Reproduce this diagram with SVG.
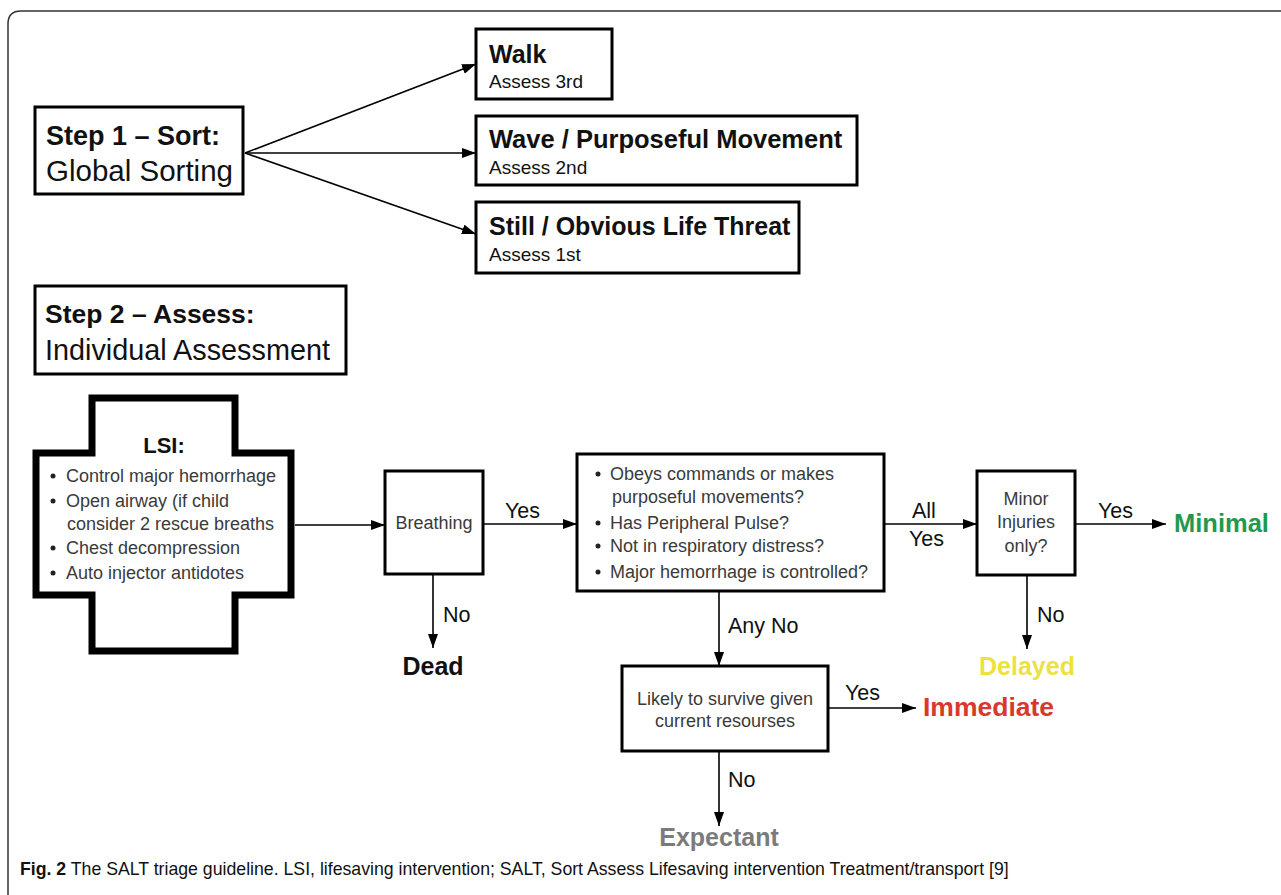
<svg xmlns="http://www.w3.org/2000/svg" width="1281" height="895" viewBox="0 0 1281 895">
<defs>
<marker id="arr" markerUnits="userSpaceOnUse" markerWidth="14" markerHeight="10" refX="14" refY="5" orient="auto">
<path d="M0,0 L14,5 L0,10 z" fill="#000"/>
</marker>
<style>
.box{fill:#fff;stroke:#000;stroke-width:3}
.t{font-family:"Liberation Sans",Arial,sans-serif;fill:#111}
.b{font-weight:bold}
.g{fill:#3a3a3a;font-size:18px}
.lbl{font-size:21.5px}
.conn line{stroke:#000;stroke-width:1.6;marker-end:url(#arr)}
.dot{fill:#222}
</style>
</defs>
<rect width="1281" height="895" fill="#fff"/>
<path d="M8,895 V24 Q8,11 21,11 H1281" fill="none" stroke="#333" stroke-width="1.5"/>

<g id="step1">
<rect class="box" x="35" y="107" width="208" height="87"/>
<text class="t b" x="46" y="145" font-size="27">Step 1 – Sort:</text>
<text class="t" x="46" y="181" font-size="29.5">Global Sorting</text>
</g>
<g id="walk">
<rect class="box" x="476" y="29" width="136" height="70"/>
<text class="t b" x="489" y="63" font-size="25">Walk</text>
<text class="t" x="489" y="88" font-size="19">Assess 3rd</text>
</g>
<g id="wave">
<rect class="box" x="476" y="116" width="381" height="69"/>
<text class="t b" x="489" y="148" font-size="25.5">Wave / Purposeful Movement</text>
<text class="t" x="489" y="174" font-size="19">Assess 2nd</text>
</g>
<g id="still">
<rect class="box" x="476" y="202" width="323" height="71"/>
<text class="t b" x="489" y="235" font-size="25">Still / Obvious Life Threat</text>
<text class="t" x="489" y="261" font-size="19">Assess 1st</text>
</g>
<g id="step2">
<rect class="box" x="35" y="286" width="311" height="88"/>
<text class="t b" x="45" y="323" font-size="26.5">Step 2 – Assess:</text>
<text class="t" x="45" y="360" font-size="28.8">Individual Assessment</text>
</g>
<g id="lsi">
<polygon points="92,398 235,398 235,453 291,453 291,595 235,595 235,651 92,651 92,595 36,595 36,453 92,453" fill="#fff" stroke="#000" stroke-width="7"/>
<text class="t b" x="164" y="453" font-size="22" text-anchor="middle">LSI:</text>
<circle class="dot" cx="53" cy="476" r="2.5"/>
<circle class="dot" cx="53" cy="501" r="2.5"/>
<circle class="dot" cx="53" cy="548" r="2.5"/>
<circle class="dot" cx="53" cy="573" r="2.5"/>
<text class="t g" x="66" y="482">Control major hemorrhage</text>
<text class="t g" x="66" y="507">Open airway (if child</text>
<text class="t g" x="67" y="530">consider 2 rescue breaths</text>
<text class="t g" x="66" y="554">Chest decompression</text>
<text class="t g" x="66" y="579">Auto injector antidotes</text>
</g>
<g id="breathing">
<rect class="box" x="385" y="471" width="98" height="103"/>
<text class="t g" x="434" y="529" font-size="17.5" text-anchor="middle">Breathing</text>
</g>
<g id="criteria">
<rect class="box" x="577" y="454" width="307" height="137"/>
<circle class="dot" cx="598" cy="474" r="2.5"/>
<circle class="dot" cx="598" cy="523" r="2.5"/>
<circle class="dot" cx="598" cy="546" r="2.5"/>
<circle class="dot" cx="598" cy="572" r="2.5"/>
<text class="t g" x="610" y="480">Obeys commands or makes</text>
<text class="t g" x="612" y="503">purposeful movements?</text>
<text class="t g" x="610" y="529">Has Peripheral Pulse?</text>
<text class="t g" x="610" y="552">Not in respiratory distress?</text>
<text class="t g" x="610" y="578">Major hemorrhage is controlled?</text>
</g>
<g id="minor">
<rect class="box" x="977" y="471" width="98" height="104"/>
<text class="t g" x="1026" y="505" font-size="17" text-anchor="middle">Minor</text>
<text class="t g" x="1026" y="528" font-size="17" text-anchor="middle">Injuries</text>
<text class="t g" x="1026" y="552" font-size="17" text-anchor="middle">only?</text>
</g>
<g id="likely">
<rect class="box" x="622" y="666" width="206" height="85"/>
<text class="t g" x="725" y="705" font-size="17.5" text-anchor="middle">Likely to survive given</text>
<text class="t g" x="725" y="727" font-size="17.5" text-anchor="middle">current resourses</text>
</g>
<g id="dead"><text class="t b" x="433" y="675" font-size="25" text-anchor="middle">Dead</text></g>
<g id="minimal"><text class="t b" x="1174" y="532" font-size="25.5" style="fill:#1f9a4c">Minimal</text></g>
<g id="delayed"><text class="t b" x="1027" y="675" font-size="25" text-anchor="middle" style="fill:#ece23f">Delayed</text></g>
<g id="immediate"><text class="t b" x="923" y="716" font-size="26.5" style="fill:#d8392c">Immediate</text></g>
<g id="expectant"><text class="t b" x="719" y="846" font-size="25" text-anchor="middle" style="fill:#7b7b7b">Expectant</text></g>

<g id="connectors" class="conn">
<line x1="245" y1="153" x2="476" y2="64"/>
<line x1="245" y1="153" x2="476" y2="153"/>
<line x1="245" y1="153" x2="476" y2="234"/>
<line x1="295" y1="525" x2="385" y2="525"/>
<line x1="483" y1="524" x2="577" y2="524"/>
<line x1="433" y1="574" x2="433" y2="648"/>
<line x1="884" y1="524" x2="977" y2="524"/>
<line x1="1075" y1="524" x2="1166" y2="524"/>
<line x1="1027" y1="575" x2="1027" y2="649"/>
<line x1="719" y1="591" x2="719" y2="666"/>
<line x1="828" y1="708" x2="916" y2="708"/>
<line x1="719" y1="751" x2="719" y2="826"/>
</g>
<g id="labels">
<text class="t lbl" x="505" y="518">Yes</text>
<text class="t lbl" x="443" y="622">No</text>
<text class="t lbl" x="912" y="518">All</text>
<text class="t lbl" x="909" y="546">Yes</text>
<text class="t lbl" x="1098" y="518">Yes</text>
<text class="t lbl" x="1037" y="622">No</text>
<text class="t lbl" x="728" y="633">Any No</text>
<text class="t lbl" x="845" y="700">Yes</text>
<text class="t lbl" x="728" y="787">No</text>
</g>
<g id="caption">
<text class="t" x="20" y="875" font-size="17.7"><tspan font-weight="bold">Fig. 2</tspan> The SALT triage guideline. LSI, lifesaving intervention; SALT, Sort Assess Lifesaving intervention Treatment/transport [9]</text>
</g>
</svg>
